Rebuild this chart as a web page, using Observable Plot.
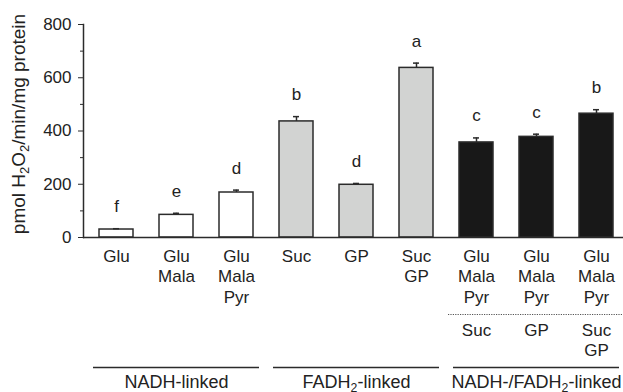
<!DOCTYPE html>
<html><head><meta charset="utf-8">
<script src="https://cdn.jsdelivr.net/npm/d3@7"></script>
<script src="https://cdn.jsdelivr.net/npm/@observablehq/plot@0.6"></script>
<style>body{margin:0;background:#fff}</style>
</head><body><div id="chart"></div>
<script>
const conditions = ["Glu","Glu+Mala","Glu+Mala+Pyr","Suc","GP","Suc+GP","GMP+Suc","GMP+GP","GMP+Suc+GP"];
const upperLabels = ["Glu","Glu\nMala","Glu\nMala\nPyr","Suc","GP","Suc\nGP","Glu\nMala\nPyr","Glu\nMala\nPyr","Glu\nMala\nPyr"];
const lowerLabels = ["","","","","","","Suc","GP","Suc\nGP"];
const rates = [30,85,169,436,198,637,357,378,465];
const sems = [3,6,9,18,5,18,17,10,15];
const letters = ["f","e","d","b","d","a","c","c","b"];
const pathway = ["NADH","NADH","NADH","FADH","FADH","FADH","Both","Both","Both"];
const groupKeys = ["NADH","FADH","Both"];
const groupLabels = ["NADH-linked","FADH_2-linked","NADH-/FADH_2-linked"];
const groupColors = ["#ffffff","#d2d3d2","#181818"];
const yTicks = [0,200,400,600,800];
const yMinorTicks = [100,300,500,700];
const yLabel = "pmol H_2O_2/min/mg protein";

const data = conditions.map((c,i)=>({c, up: upperLabels[i], low: lowerLabels[i], v: rates[i], top: rates[i]+sems[i], letter: letters[i], g: pathway[i]}));
const groups = groupKeys.map((g,i)=>{
  const m = data.filter(d=>d.g===g);
  return {g, label: groupLabels[i], first: m[0].c, mid: m[Math.floor(m.length/2)].c, last: m[m.length-1].c};
});
const lowered = data.filter(d=>d.low);
const split = [{first: lowered[0].c, last: lowered[lowered.length-1].c}];

const ink = "#2b2b2b";
const font = "'Liberation Sans', Arial, sans-serif";

const plot = Plot.plot({
  width: 623, height: 392,
  marginLeft: 83, marginRight: 0, marginTop: 24, marginBottom: 155,
  style: {fontFamily: font, fontSize: "17px", color: "#222", background: "#fff"},
  x: {domain: conditions, range: [84, 627], paddingInner: 0.44, paddingOuter: 0.22, axis: null},
  y: {domain: [0, 800], axis: null},
  color: {domain: groupKeys, range: groupColors},
  marks: [
    Plot.barY(data, {x: "c", y: "v", fill: "g", stroke: ink, strokeWidth: 1.5}),
    Plot.ruleX(data, {x: "c", y1: "v", y2: "top", stroke: ink, strokeWidth: 1.5}),
    Plot.tickY(data, {x: "c", y: "top", insetLeft: 14, insetRight: 14, stroke: ink, strokeWidth: 1.5}),
    Plot.text(data, {x: "c", y: "top", text: "letter", dy: -22, fontSize: 17, fill: "#222"}),
    Plot.ruleY([0], {stroke: ink, strokeWidth: 1.5}),
    Plot.frame({anchor: "left", stroke: ink, strokeWidth: 1.5}),
    Plot.axisY(yTicks, {tickSize: 5, tickPadding: 7, fontSize: 17, stroke: ink, fill: "#222", label: null}),
    Plot.axisY(yMinorTicks, {tickSize: 3, tickFormat: () => "", stroke: ink, label: null}),
    Plot.text(data, {x: "c", text: "up", frameAnchor: "bottom", lineAnchor: "top", dy: 10, lineHeight: 1.2, fontSize: 17, fill: "#222"}),
    Plot.text(lowered, {x: "c", text: "low", frameAnchor: "bottom", lineAnchor: "top", dy: 84, lineHeight: 1.2, fontSize: 17, fill: "#222"}),
    Plot.ruleY(split, {x1: "first", x2: "last", y: () => 0, dy: 77, insetLeft: -11, insetRight: -9, stroke: "#555", strokeWidth: 1, strokeDasharray: "1.2,1.2"}),
    Plot.ruleY(groups, {x1: "first", x2: "last", y: () => 0, dy: 130, insetLeft: -6, insetRight: -6, stroke: ink, strokeWidth: 1.5}),
    Plot.text(groups, {x: "mid", text: "label", y: () => 0, lineAnchor: "top", dy: 138, fontSize: 18, fill: "#222"}),
    Plot.text([yLabel], {text: d => d, frameAnchor: "left", textAnchor: "middle", rotate: -90, dx: -65, dy: -7, fontSize: 19, fill: "#222"})
  ]
});
document.getElementById("chart").appendChild(plot);

// render "_2" as subscript tspans
d3.select(plot).selectAll("text").each(function(){
  const el = this;
  const t = el.textContent;
  if (!t.includes("_") || el.querySelector("tspan")) return;
  const fs = parseFloat(getComputedStyle(el).fontSize) || 17;
  const parts = t.split(/_(\d)/);
  el.textContent = "";
  let shifted = false;
  parts.forEach((p, i) => {
    if (!p) return;
    const sp = d3.select(el).append("tspan").text(p);
    if (i % 2 === 1) { sp.attr("font-size", (fs*0.68)+"px").attr("dy", (fs*0.22)+"px"); shifted = true; }
    else if (shifted) { sp.attr("dy", (-fs*0.22)+"px"); shifted = false; }
  });
});
</script>
</body></html>
